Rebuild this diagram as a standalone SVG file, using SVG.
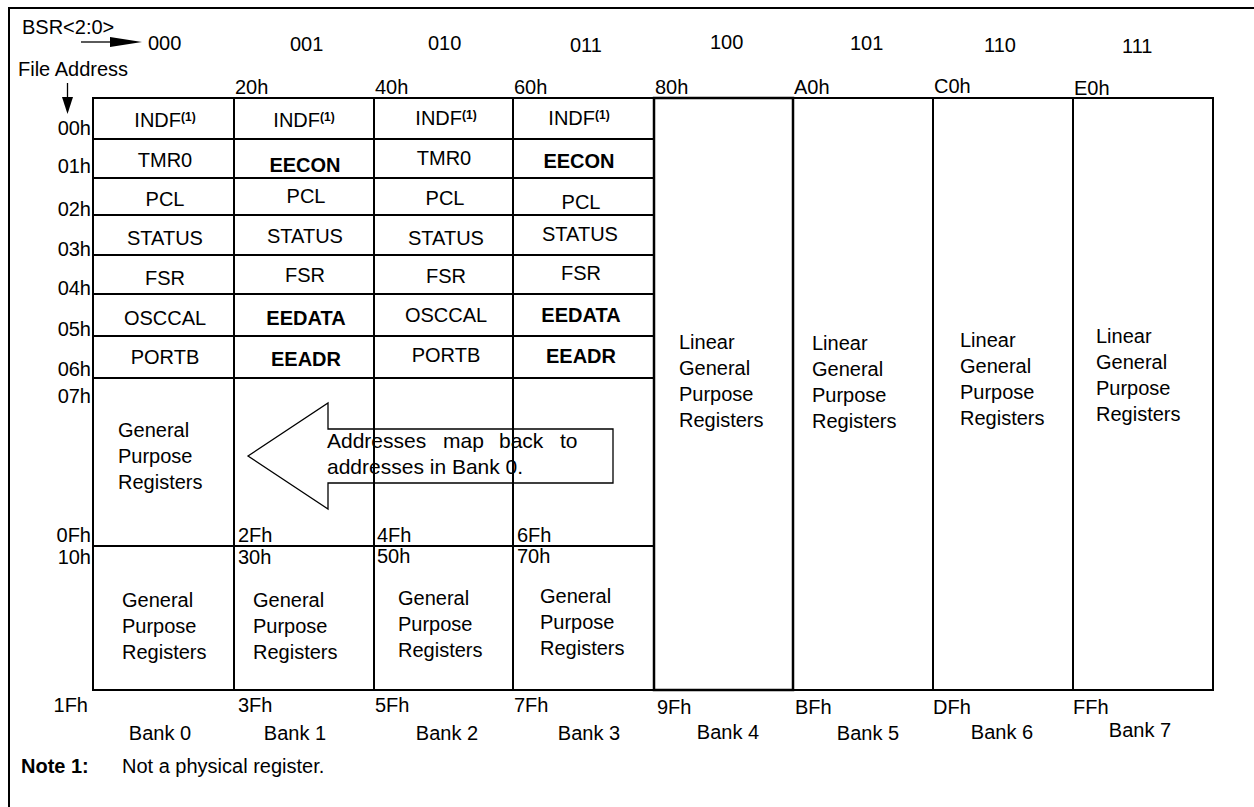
<svg xmlns="http://www.w3.org/2000/svg" width="1254" height="807" viewBox="0 0 1254 807">
<style>
.t{font-family:"Liberation Sans",Arial,sans-serif;font-size:20px;fill:#000}
.b{font-weight:bold}
.m{text-anchor:middle}
.e{text-anchor:end}
.sup{font-size:12px;font-weight:bold}
.ln{stroke:#000;stroke-width:2;fill:none}
.thin{stroke:#000;stroke-width:1.3;fill:none}
.at{font-size:21px}
</style>
<rect width="1254" height="807" fill="#fff"/>
<path class="ln" d="M9,807 V8 H1254"/>

<g id="header">
<text class="t" x="22" y="34">BSR&lt;2:0&gt;</text>
<text class="t" x="18" y="76">File Address</text>
<text class="t" x="148" y="50">000</text>
<text class="t" x="290" y="51">001</text>
<text class="t" x="428" y="50">010</text>
<text class="t" x="570" y="52">011</text>
<text class="t" x="710" y="49">100</text>
<text class="t" x="850" y="50">101</text>
<text class="t" x="984" y="52">110</text>
<text class="t" x="1122" y="53">111</text>
<text class="t" x="235" y="94">20h</text>
<text class="t" x="375" y="94">40h</text>
<text class="t" x="514" y="94">60h</text>
<text class="t" x="655" y="94">80h</text>
<text class="t" x="794" y="94">A0h</text>
<text class="t" x="934" y="93">C0h</text>
<text class="t" x="1074" y="95">E0h</text>
</g>

<g id="row-labels">
<text class="t e" x="91" y="135">00h</text>
<text class="t e" x="91" y="173">01h</text>
<text class="t e" x="91" y="216">02h</text>
<text class="t e" x="91" y="256">03h</text>
<text class="t e" x="91" y="295">04h</text>
<text class="t e" x="91" y="336">05h</text>
<text class="t e" x="91" y="376">06h</text>
<text class="t e" x="91" y="403">07h</text>
<text class="t e" x="91" y="542">0Fh</text>
<text class="t e" x="91" y="564">10h</text>
<text class="t e" x="88" y="712">1Fh</text>
</g>

<g id="bank0">
<rect class="ln" x="93" y="98" width="141" height="592"/>
<path class="ln" d="M93,139H234M93,178H234M93,215H234M93,255H234M93,294H234M93,336H234M93,378H234M93,546H234"/>
<text class="t m" x="165" y="127">INDF<tspan class="sup" dy="-6">(1)</tspan></text>
<text class="t m" x="165" y="167">TMR0</text>
<text class="t m" x="165" y="206">PCL</text>
<text class="t m" x="165" y="245">STATUS</text>
<text class="t m" x="165" y="285">FSR</text>
<text class="t m" x="165" y="325">OSCCAL</text>
<text class="t m" x="165" y="364">PORTB</text>
<text class="t" x="118" y="437">General</text>
<text class="t" x="118" y="463">Purpose</text>
<text class="t" x="118" y="489">Registers</text>
<text class="t" x="122" y="607">General</text>
<text class="t" x="122" y="633">Purpose</text>
<text class="t" x="122" y="659">Registers</text>
<text class="t m" x="160" y="740">Bank 0</text>
</g>

<g id="bank1">
<rect class="ln" x="234" y="98" width="140" height="592"/>
<path class="ln" d="M234,139H374M234,178H374M234,215H374M234,255H374M234,294H374M234,336H374M234,378H374M234,546H374"/>
<text class="t m" x="304" y="127">INDF<tspan class="sup" dy="-6">(1)</tspan></text>
<text class="t m b" x="305" y="172">EECON</text>
<text class="t m" x="306" y="203">PCL</text>
<text class="t m" x="305" y="243">STATUS</text>
<text class="t m" x="305" y="282">FSR</text>
<text class="t m b" x="306" y="325">EEDATA</text>
<text class="t m b" x="306" y="366">EEADR</text>
<text class="t" x="238" y="542">2Fh</text>
<text class="t" x="238" y="564">30h</text>
<text class="t" x="253" y="607">General</text>
<text class="t" x="253" y="633">Purpose</text>
<text class="t" x="253" y="659">Registers</text>
<text class="t" x="238" y="712">3Fh</text>
<text class="t m" x="295" y="740">Bank 1</text>
</g>

<g id="bank2">
<rect class="ln" x="374" y="98" width="139" height="592"/>
<path class="ln" d="M374,139H513M374,178H513M374,215H513M374,255H513M374,294H513M374,336H513M374,378H513M374,546H513"/>
<text class="t m" x="446" y="125">INDF<tspan class="sup" dy="-6">(1)</tspan></text>
<text class="t m" x="444" y="165">TMR0</text>
<text class="t m" x="445" y="205">PCL</text>
<text class="t m" x="446" y="245">STATUS</text>
<text class="t m" x="446" y="283">FSR</text>
<text class="t m" x="446" y="322">OSCCAL</text>
<text class="t m" x="446" y="362">PORTB</text>
<text class="t" x="377" y="542">4Fh</text>
<text class="t" x="377" y="563">50h</text>
<text class="t" x="398" y="605">General</text>
<text class="t" x="398" y="631">Purpose</text>
<text class="t" x="398" y="657">Registers</text>
<text class="t" x="375" y="712">5Fh</text>
<text class="t m" x="447" y="740">Bank 2</text>
</g>

<g id="bank3">
<rect class="ln" x="513" y="98" width="141" height="592"/>
<path class="ln" d="M513,139H654M513,178H654M513,215H654M513,255H654M513,294H654M513,336H654M513,378H654M513,546H654"/>
<text class="t m" x="579" y="125">INDF<tspan class="sup" dy="-6">(1)</tspan></text>
<text class="t m b" x="579" y="168">EECON</text>
<text class="t m" x="581" y="209">PCL</text>
<text class="t m" x="580" y="241">STATUS</text>
<text class="t m" x="581" y="280">FSR</text>
<text class="t m b" x="581" y="322">EEDATA</text>
<text class="t m b" x="581" y="363">EEADR</text>
<text class="t" x="517" y="542">6Fh</text>
<text class="t" x="517" y="563">70h</text>
<text class="t" x="540" y="603">General</text>
<text class="t" x="540" y="629">Purpose</text>
<text class="t" x="540" y="655">Registers</text>
<text class="t" x="514" y="712">7Fh</text>
<text class="t m" x="589" y="740">Bank 3</text>
</g>

<g id="bank4">
<rect class="ln" x="654" y="98" width="139" height="592" style="stroke-width:2.5"/>
<text class="t" x="679" y="349">Linear</text>
<text class="t" x="679" y="375">General</text>
<text class="t" x="679" y="401">Purpose</text>
<text class="t" x="679" y="427">Registers</text>
<text class="t" x="657" y="714">9Fh</text>
<text class="t m" x="728" y="739">Bank 4</text>
</g>

<g id="bank5">
<rect class="ln" x="793" y="98" width="140" height="592"/>
<text class="t" x="812" y="350">Linear</text>
<text class="t" x="812" y="376">General</text>
<text class="t" x="812" y="402">Purpose</text>
<text class="t" x="812" y="428">Registers</text>
<text class="t" x="795" y="714">BFh</text>
<text class="t m" x="868" y="740">Bank 5</text>
</g>

<g id="bank6">
<rect class="ln" x="933" y="98" width="140" height="592"/>
<text class="t" x="960" y="347">Linear</text>
<text class="t" x="960" y="373">General</text>
<text class="t" x="960" y="399">Purpose</text>
<text class="t" x="960" y="425">Registers</text>
<text class="t" x="933" y="714">DFh</text>
<text class="t m" x="1002" y="739">Bank 6</text>
</g>

<g id="bank7">
<rect class="ln" x="1073" y="98" width="140" height="592"/>
<text class="t" x="1096" y="343">Linear</text>
<text class="t" x="1096" y="369">General</text>
<text class="t" x="1096" y="395">Purpose</text>
<text class="t" x="1096" y="421">Registers</text>
<text class="t" x="1073" y="714">FFh</text>
<text class="t m" x="1140" y="737">Bank 7</text>
</g>

<g id="connectors">
<line class="thin" x1="81" y1="42" x2="112" y2="42"/>
<polygon points="110,37 142,42 110,47" fill="#000"/>
<line class="thin" x1="67.5" y1="83" x2="67.5" y2="98"/>
<polygon points="62,97 73,97 67.5,114" fill="#000"/>
<polygon class="thin" points="248,456 328,403 328,429 613,429 613,483 328,483 328,509"/>
<text class="t at"><tspan x="327" y="448">Addresses</tspan><tspan x="443" y="448">map</tspan><tspan x="499" y="448">back</tspan><tspan x="560" y="448">to</tspan></text>
<text class="t at" x="327" y="474">addresses in Bank 0.</text>
</g>

<g id="note">
<text class="t b" x="21" y="773">Note 1:</text>
<text class="t" x="122" y="773">Not a physical register.</text>
</g>
</svg>
